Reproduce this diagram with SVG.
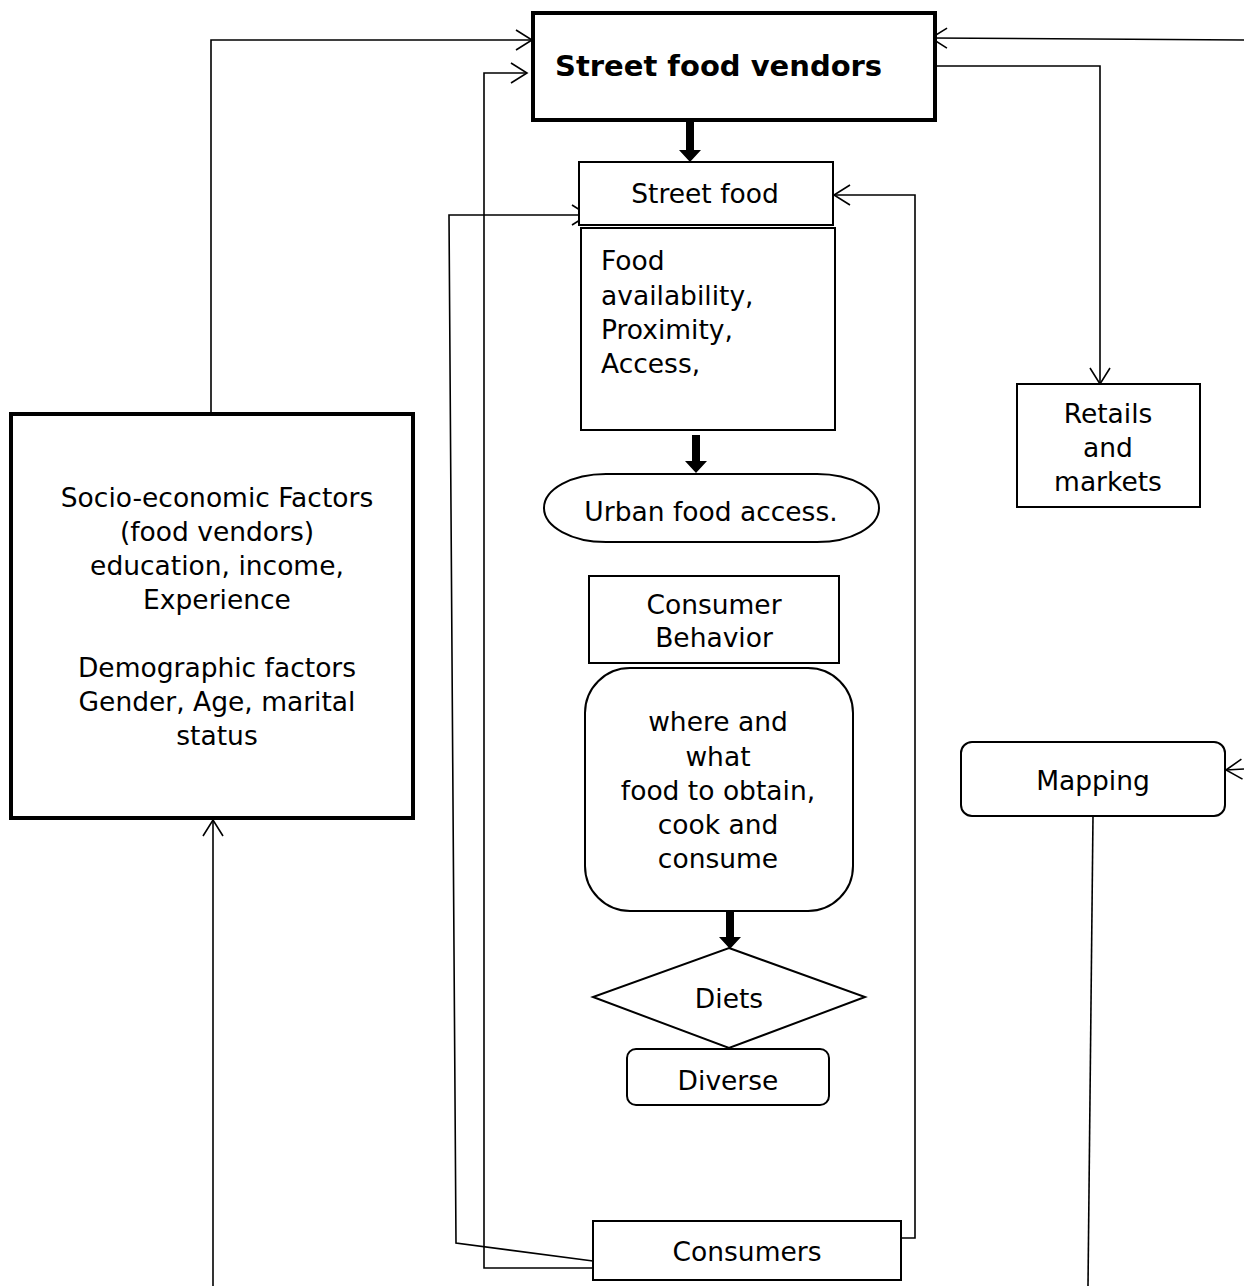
<svg xmlns="http://www.w3.org/2000/svg" width="1244" height="1286" viewBox="0 0 1244 1286">
<defs>
<style>
.t{font-family:"DejaVu Sans","Liberation Sans",sans-serif;font-size:26.5px;fill:#000;text-anchor:middle}
.b{font-weight:bold;font-size:29px;text-anchor:start}
.l{text-anchor:start}
.box{fill:#fff;stroke:#000;stroke-width:2}
.thick{fill:#fff;stroke:#000;stroke-width:4}
.c{fill:none;stroke:#000;stroke-width:1.6}
.big{fill:#000}
</style>
<marker id="ah" viewBox="0 0 20 22" refX="18" refY="11" markerWidth="20" markerHeight="22" markerUnits="userSpaceOnUse" orient="auto">
<path d="M2,1 L18,11 L2,21" fill="none" stroke="#000" stroke-width="1.6"/>
</marker>
</defs>
<rect width="1244" height="1286" fill="#fff"/>
<g id="connectors">
<polyline class="c" points="211,413 211,40 532,40" marker-end="url(#ah)"/>
<line class="c" x1="213" y1="1286" x2="213" y2="820" marker-end="url(#ah)"/>
<polyline class="c" points="593,1268 484,1268 484,73 527,73" marker-end="url(#ah)"/>
<polyline class="c" points="593,1261 456,1243 449,215 588,215" marker-end="url(#ah)"/>
<polyline class="c" points="901,1238 915,1238 915,195 834,195" marker-end="url(#ah)"/>
<line class="c" x1="1244" y1="40" x2="931" y2="38" marker-end="url(#ah)"/>
<polyline class="c" points="935,66 1100,66 1100,384" marker-end="url(#ah)"/>
<line class="c" x1="1244" y1="769" x2="1226" y2="770" marker-end="url(#ah)"/>
<line class="c" x1="1093" y1="816" x2="1088" y2="1286"/>
<path class="big" d="M686,121 H694 V150 H701 L690,162 L679,150 H686 Z"/>
<path class="big" d="M692,435 H700 V461 H707 L696,473 L685,461 H692 Z"/>
<path class="big" d="M726,911 H734 V937 H741 L730,949 L719,937 H726 Z"/>
</g>
<g id="vendors">
<rect class="thick" x="533" y="13" width="402" height="107"/>
<text class="t b" x="555" y="76">Street food vendors</text>
</g>
<g id="streetfood">
<rect class="box" x="579" y="162" width="254" height="63"/>
<text class="t" x="705" y="203">Street food</text>
</g>
<g id="availability">
<rect class="box" x="581" y="228" width="254" height="202"/>
<text class="t l" x="601" y="270">Food</text>
<text class="t l" x="601" y="305">availability,</text>
<text class="t l" x="601" y="339">Proximity,</text>
<text class="t l" x="601" y="373">Access,</text>
</g>
<g id="urban">
<rect class="box" x="544" y="474" width="335" height="68" rx="62" ry="34"/>
<text class="t" x="711" y="521">Urban food access.</text>
</g>
<g id="behavior">
<rect class="box" x="589" y="576" width="250" height="87"/>
<text class="t" x="714" y="614">Consumer</text>
<text class="t" x="714" y="647">Behavior</text>
</g>
<g id="where">
<rect class="box" x="585" y="668" width="268" height="243" rx="45"/>
<text class="t" x="718" y="731">where and</text>
<text class="t" x="718" y="766">what</text>
<text class="t" x="718" y="800">food to obtain,</text>
<text class="t" x="718" y="834">cook and</text>
<text class="t" x="718" y="868">consume</text>
</g>
<g id="diets">
<polygon class="box" points="729,948 865,997 729,1048 593,997"/>
<text class="t" x="729" y="1008">Diets</text>
</g>
<g id="diverse">
<rect class="box" x="627" y="1049" width="202" height="56" rx="9"/>
<text class="t" x="728" y="1090">Diverse</text>
</g>
<g id="consumers">
<rect class="box" x="593" y="1221" width="308" height="59"/>
<text class="t" x="747" y="1261">Consumers</text>
</g>
<g id="socio">
<rect class="thick" x="11" y="414" width="402" height="404"/>
<text class="t" x="217" y="507">Socio-economic Factors</text>
<text class="t" x="217" y="541">(food vendors)</text>
<text class="t" x="217" y="575">education, income,</text>
<text class="t" x="217" y="609">Experience</text>
<text class="t" x="217" y="677">Demographic factors</text>
<text class="t" x="217" y="711">Gender, Age, marital</text>
<text class="t" x="217" y="745">status</text>
</g>
<g id="retails">
<rect class="box" x="1017" y="384" width="183" height="123"/>
<text class="t" x="1108" y="423">Retails</text>
<text class="t" x="1108" y="457">and</text>
<text class="t" x="1108" y="491">markets</text>
</g>
<g id="mapping">
<rect class="box" x="961" y="742" width="264" height="74" rx="11"/>
<text class="t" x="1093" y="790">Mapping</text>
</g>
</svg>
